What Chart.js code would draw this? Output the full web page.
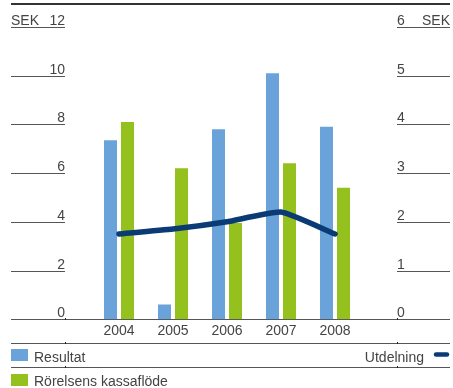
<!DOCTYPE html>
<html>
<head>
<meta charset="utf-8">
<script src="https://cdn.jsdelivr.net/npm/chart.js@4/dist/chart.umd.min.js"></script>
<style>
  html, body { margin: 0; padding: 0; background: #ffffff; }
  #wrap { width: 453px; height: 388px; position: relative; }
</style>
</head>
<body>
<div id="wrap"><canvas id="chart"></canvas></div>
<script>
// Years on the x axis
const years = ['2004', '2005', '2006', '2007', '2008'];
// Result per share, SEK (left axis)
const resultat = [7.35, 0.6, 7.8, 10.1, 7.9];
// Operating cash flow per share, SEK (left axis)
const kassaflode = [8.1, 6.2, 3.95, 6.4, 5.4];
// Dividend per share, SEK (right axis)
const utdelning = [1.75, 1.85, 2.0, 2.2, 1.75];
// Axis ranges and tick labels
const leftTicks = [0, 2, 4, 6, 8, 10, 12];
const rightTicks = [0, 1, 2, 3, 4, 5, 6];
const unit = 'SEK';

const FONT = '"Liberation Sans", Arial, Helvetica, sans-serif';
const TEXT = '#444444';
const RULE = '#555555';
const BLUE = '#6aa3d9';
const GREEN = '#95c11f';
const NAVY = '#0b3b74';

const leftEnd = 65;     // right end of the left label rules
const rightStart = 397; // left start of the right label rules
const edgeL = 11, edgeR = 450;

const frame = {
  id: 'frame',
  beforeDatasetsDraw(chart) {
    const ctx = chart.ctx;
    const yL = chart.scales.y;
    const yR = chart.scales.y2;
    ctx.save();
    // top rule
    ctx.fillStyle = '#333333';
    ctx.fillRect(edgeL, 3, edgeR - edgeL, 2);

    ctx.font = '14px ' + FONT;
    ctx.fillStyle = TEXT;
    ctx.strokeStyle = RULE;
    ctx.lineWidth = 1;

    leftTicks.forEach(v => {
      const y = Math.round(yL.getPixelForValue(v)) + 0.5;
      ctx.beginPath();
      ctx.moveTo(edgeL, y);
      ctx.lineTo(v === 0 ? edgeR : leftEnd, y);
      ctx.stroke();
      ctx.textAlign = 'right';
      ctx.textBaseline = 'alphabetic';
      ctx.fillText(String(v), leftEnd, y - 3);
      if (v === leftTicks[leftTicks.length - 1]) {
        ctx.textAlign = 'left';
        ctx.fillText(unit, edgeL, y - 3);
      }
    });
    rightTicks.forEach(v => {
      const y = Math.round(yR.getPixelForValue(v)) + 0.5;
      if (v !== 0) {
        ctx.beginPath();
        ctx.moveTo(rightStart, y); ctx.lineTo(edgeR, y);
        ctx.stroke();
      }
      ctx.textAlign = 'left';
      ctx.fillText(String(v), rightStart, y - 3);
      if (v === rightTicks[rightTicks.length - 1]) {
        ctx.textAlign = 'right';
        ctx.fillText(unit, edgeR, y - 3);
      }
    });
    // small tick marks on the zero rule
    const y0 = Math.round(yL.getPixelForValue(0));
    ctx.fillStyle = '#222222';
    ctx.fillRect(leftEnd, y0 - 1, 1, 2);
    ctx.fillRect(rightStart, y0 - 1, 1, 2);
    ctx.restore();
  },
  afterDraw(chart) {
    const ctx = chart.ctx;
    const ds = chart.data.datasets;
    ctx.save();
    ctx.strokeStyle = RULE;
    ctx.lineWidth = 1;
    [343.5, 367.5].forEach(y => {
      ctx.beginPath(); ctx.moveTo(edgeL, y); ctx.lineTo(edgeR, y); ctx.stroke();
      ctx.fillStyle = '#222222';
      ctx.fillRect(leftEnd, y - 1.5, 1, 2);
      ctx.fillRect(rightStart, y - 1.5, 1, 2);
    });
    ctx.font = '14px ' + FONT;
    ctx.textBaseline = 'alphabetic';
    // bar series keys
    const rows = [[ds[0], 349, 362], [ds[1], 374, 386]];
    rows.forEach(([d, top, base]) => {
      ctx.fillStyle = d.backgroundColor;
      ctx.fillRect(11, top, 17, 12);
      ctx.fillStyle = TEXT;
      ctx.textAlign = 'left';
      ctx.fillText(d.label, 34, base);
    });
    // line series key
    ctx.textAlign = 'right';
    ctx.fillStyle = TEXT;
    ctx.fillText(ds[2].label, 424, 362);
    ctx.strokeStyle = ds[2].borderColor;
    ctx.lineWidth = 4.5;
    ctx.lineCap = 'round';
    ctx.beginPath(); ctx.moveTo(436, 354.5); ctx.lineTo(447, 354.5); ctx.stroke();
    ctx.restore();
  }
};

new Chart(document.getElementById('chart'), {
  data: {
    labels: years,
    datasets: [
      { type: 'bar', label: 'Resultat', data: resultat, backgroundColor: BLUE,
        yAxisID: 'y', order: 2, categoryPercentage: 0.63, barPercentage: 0.765 },
      { type: 'bar', label: 'Rörelsens kassaflöde', data: kassaflode, backgroundColor: GREEN,
        yAxisID: 'y', order: 2, categoryPercentage: 0.63, barPercentage: 0.765 },
      { type: 'line', label: 'Utdelning', data: utdelning, borderColor: NAVY,
        borderWidth: 5.5, pointRadius: 0, tension: 0.15, yAxisID: 'y2', order: 1,
        borderCapStyle: 'round', borderJoinStyle: 'miter' }
    ]
  },
  options: {
    responsive: true,
    maintainAspectRatio: false,
    animation: false,
    layout: { padding: { left: 92, right: 91, top: 27, bottom: 44 } },
    plugins: { legend: { display: false }, tooltip: { enabled: false } },
    scales: {
      x: {
        grid: { display: false, drawTicks: false },
        border: { display: false },
        ticks: { color: TEXT, font: { family: FONT, size: 14 }, padding: 4 }
      },
      y: {
        display: false, min: leftTicks[0], max: leftTicks[leftTicks.length - 1]
      },
      y2: {
        display: false, position: 'right',
        min: rightTicks[0], max: rightTicks[rightTicks.length - 1]
      }
    }
  },
  plugins: [frame]
});
</script>
</body>
</html>
